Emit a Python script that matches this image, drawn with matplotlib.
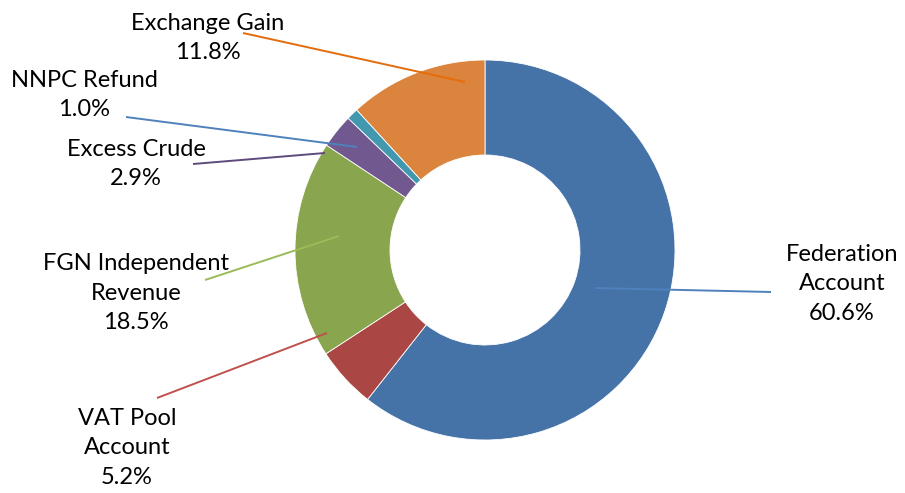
import matplotlib
matplotlib.use("Agg")
import matplotlib.pyplot as plt

categories = ["Federation\nAccount", "VAT Pool\nAccount", "FGN Independent\nRevenue",
              "Excess Crude", "NNPC Refund", "Exchange Gain"]
values = [60.6, 5.2, 18.5, 2.9, 1.0, 11.8]
colors = ["#4572A7", "#AA4643", "#89A54E", "#71588F", "#4198AF", "#DB843D"]
line_colors = ["#4F81BD", "#C0504D", "#9BBB59", "#604A7B", "#4F81BD", "#E46C0A"]

# layout (pixel coords, y measured from top)
W, H = 905, 493
center = (485, 250)
radius = 190
label_pos = [(842, 284), (127, 448), (136, 293), (136, 164), (84, 95), (208, 38)]
line_start = [(771, 292), (157, 398), (205, 280), (193, 164), (126, 117), (243, 33)]
line_end = [(595, 288), (327, 333), (339, 236), (325, 153), (357, 147), (465, 82)]

plt.rcParams['font.family'] = ['Lato', 'DejaVu Sans']
fig = plt.figure(figsize=(W / 100, H / 100), dpi=100)
ax = fig.add_axes([0, 0, 1, 1])

ax.pie(values, colors=colors, startangle=90, counterclock=False,
       center=(center[0], H - center[1]), radius=radius,
       wedgeprops=dict(width=radius * 0.5, edgecolor='white', linewidth=0.6),
       frame=True)
ax.set_xlim(0, W)
ax.set_ylim(0, H)
ax.set_aspect('equal')
ax.axis('off')

for cat, v, lc, lp, ls, le in zip(categories, values, line_colors, label_pos, line_start, line_end):
    ax.plot([ls[0], le[0]], [H - ls[1], H - le[1]], color=lc, lw=1.4, solid_capstyle='butt')
    ax.text(lp[0], H - lp[1], f"{cat}\n{v:.1f}%", ha='center', va='center',
            fontsize=17, color='black', linespacing=1.5)

fig.savefig("out.png", dpi=100)
